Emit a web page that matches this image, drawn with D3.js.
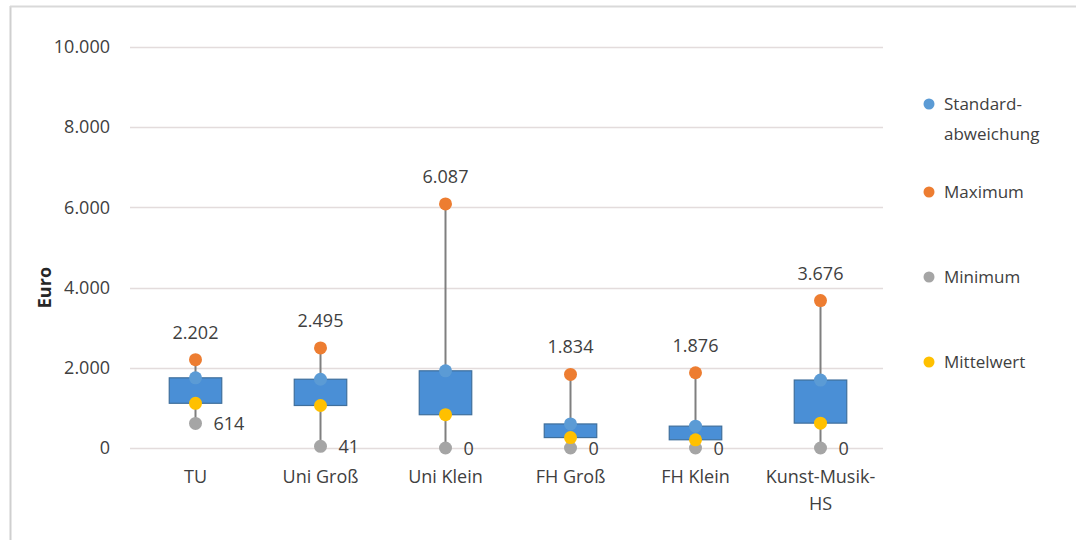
<!DOCTYPE html>
<html>
<head>
<meta charset="utf-8">
<script src="https://cdn.jsdelivr.net/npm/d3@7"></script>
<style>
  body { margin:0; background:#fff; }
  svg text { font-family: "Open Sans", "Noto Sans", sans-serif; fill:#404040; }
</style>
</head>
<body>
<div id="chart"></div>
<script>
// data
var categories = ['TU', 'Uni Groß', 'Uni Klein', 'FH Groß', 'FH Klein', 'Kunst-Musik-HS']
var stdDev = [1750, 1715, 1925, 600, 545, 1695]
var maximum = [2202, 2495, 6087, 1834, 1876, 3676]
var minimum = [614, 41, 0, 0, 0, 0]
var mean = [1115, 1060, 830, 260, 205, 620]
var yTicks = [0, 2000, 4000, 6000, 8000, 10000]
var legendItems = ['Standard-\nabweichung', 'Maximum', 'Minimum', 'Mittelwert']
var colors = ['#5b9bd5', '#ed7d31', '#a5a5a5', '#ffc000']

;(function(){
  var width = 1076, height = 540

  var svg = d3.select('#chart').append('svg')
    .attr('width', width)
    .attr('height', height)

  var de = d3.formatLocale({decimal: ',', thousands: '.', grouping: [3], currency: ['', '€']})
  var fmt = de.format(',d')

  var rows = categories.map(function(c, i){
    return {cat: c, sd: stdDev[i], max: maximum[i], min: minimum[i], mean: mean[i]}
  })

  // frame
  svg.append('line').attr('x1', 10.5).attr('x2', 10.5).attr('y1', 6).attr('y2', height)
    .attr('stroke', '#cfcfcf').attr('stroke-width', 2)
  svg.append('line').attr('x1', 10).attr('x2', width).attr('y1', 6.5).attr('y2', 6.5)
    .attr('stroke', '#d9d9d9').attr('stroke-width', 2)

  var x = d3.scaleBand().domain(categories).range([133, 883])
  var y = d3.scaleLinear().domain([0, 10000]).range([448, 47])

  // grid
  svg.append('g').selectAll('line').data(yTicks).enter().append('line')
    .attr('x1', 130).attr('x2', 883)
    .attr('y1', function(d){ return Math.round(y(d)) + 0.5 })
    .attr('y2', function(d){ return Math.round(y(d)) + 0.5 })
    .attr('stroke', '#e3dcdc').attr('stroke-width', 1.5)

  var yAxis = svg.append('g')
    .attr('transform', 'translate(120,0)')
    .call(d3.axisLeft(y).tickValues(yTicks).tickSize(0).tickPadding(10).tickFormat(fmt))
  yAxis.select('.domain').remove()
  yAxis.selectAll('text').style('font-size', '18px').style('fill', '#404040')
    .style('font-family', '"Open Sans", sans-serif')

  svg.append('text')
    .attr('transform', 'translate(45,' + y(4000) + ') rotate(-90)')
    .attr('text-anchor', 'middle').attr('dy', '0.35em')
    .style('font-size', '18px').style('font-weight', 'bold').style('fill', '#262626')
    .text('Euro')

  // category labels
  var xl = svg.append('g').selectAll('text').data(categories).enter().append('text')
    .attr('x', function(d){ return x(d) + x.bandwidth()/2 })
    .attr('y', 483)
    .attr('text-anchor', 'middle')
    .style('font-size', '18px')
  xl.each(function(d){
    var parts = d === 'Kunst-Musik-HS' ? ['Kunst-Musik-', 'HS'] : [d]
    d3.select(this).selectAll('tspan').data(parts).enter().append('tspan')
      .attr('x', x(d) + x.bandwidth()/2)
      .attr('dy', function(p, i){ return i ? 27 : 0 })
      .text(function(p){ return p })
  })

  var cx = function(d){ return x(d.cat) + x.bandwidth()/2 }
  var bw = x.bandwidth() * 0.42

  var g = svg.append('g')

  // high-low lines
  g.selectAll('.hl').data(rows).enter().append('line')
    .attr('x1', cx).attr('x2', cx)
    .attr('y1', function(d){ return y(d.max) })
    .attr('y2', function(d){ return y(d.min) })
    .attr('stroke', '#7f7f7f').attr('stroke-width', 2)

  // boxes between standard deviation and mean
  g.selectAll('.box').data(rows).enter().append('rect')
    .attr('x', function(d){ return cx(d) - bw/2 })
    .attr('width', bw)
    .attr('y', function(d){ return y(Math.max(d.sd, d.mean)) })
    .attr('height', function(d){ return Math.abs(y(d.sd) - y(d.mean)) })
    .attr('fill', '#4a8fd6').attr('stroke', '#3f6f9c').attr('stroke-width', 1.2)

  var keys = ['sd', 'max', 'min', 'mean']
  keys.forEach(function(k, i){
    g.selectAll('.dot-' + k).data(rows).enter().append('circle')
      .attr('cx', cx)
      .attr('cy', function(d){ return y(d[k]) })
      .attr('r', 6.5)
      .attr('fill', colors[i])
  })

  // value labels
  g.selectAll('.maxlab').data(rows).enter().append('text')
    .attr('x', cx)
    .attr('y', function(d){ return y(d.max) - 21 })
    .attr('text-anchor', 'middle')
    .style('font-size', '18px')
    .text(function(d){ return fmt(d.max) })

  g.selectAll('.minlab').data(rows).enter().append('text')
    .attr('x', function(d){ return cx(d) + 18 })
    .attr('y', function(d){ return y(d.min) + 7 })
    .style('font-size', '18px')
    .text(function(d){ return fmt(d.min) })

  // legend
  var legY = [104, 192, 277, 362]
  var leg = svg.append('g').selectAll('g').data(legendItems).enter().append('g')
    .attr('transform', function(d, i){ return 'translate(929,' + legY[i] + ')' })
  leg.append('circle').attr('r', 5.5).attr('fill', function(d, i){ return colors[i] })
  leg.append('text')
    .attr('x', 15)
    .style('font-size', '17px')
    .each(function(d){
      d3.select(this).selectAll('tspan').data(d.split('\n')).enter().append('tspan')
        .attr('x', 15)
        .attr('y', function(p, i){ return i * 30 })
        .attr('dy', '0.35em')
        .text(function(p){ return p })
    })
})()
</script>
</body>
</html>
